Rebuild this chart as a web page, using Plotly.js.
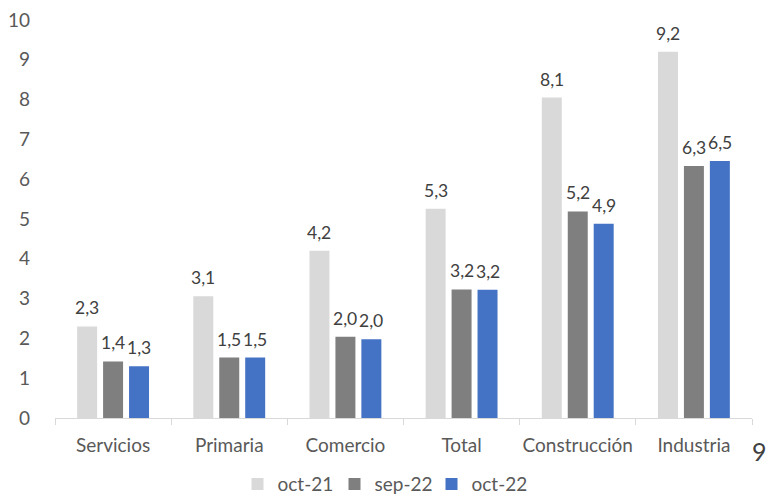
<!DOCTYPE html>
<html>
<head>
<meta charset="utf-8">
<script src="https://cdn.plot.ly/plotly-3.0.1.min.js"></script>
<style>html,body{margin:0;padding:0;background:#fff;}#chart{width:766px;height:494px;}</style>
</head>
<body>
<div id="chart"></div>
<script>
const categories = ["Servicios", "Primaria", "Comercio", "Total", "Construcción", "Industria"];
const seriesNames = ["oct-21", "sep-22", "oct-22"];
const oct21 = [2.3, 3.06, 4.2, 5.26, 8.05, 9.2];
const sep22 = [1.42, 1.52, 2.04, 3.23, 5.19, 6.33];
const oct22 = [1.3, 1.52, 1.98, 3.22, 4.88, 6.46];
const colors = ["#d9d9d9", "#7f7f7f", "#4472c4"];

const FONT = "Lato, 'Open Sans', sans-serif";
const BARGAP = 0.33;
const allSeries = [oct21, sep22, oct22];

const data = allSeries.map((vals, i) => ({
  type: "bar",
  name: seriesNames[i],
  x: categories,
  y: vals,
  marker: {color: colors[i]},
  hoverinfo: "none"
}));

// value labels placed above each bar (in axis units: category index + group offset)
const slot = (1 - BARGAP) / allSeries.length;
const labels = [];
allSeries.forEach((vals, i) => {
  vals.forEach((v, j) => {
    labels.push({
      x: j + (i - (allSeries.length - 1) / 2) * slot,
      y: v, xref: "x", yref: "y",
      text: v.toFixed(1).replace(".", ","),
      showarrow: false, yanchor: "bottom", xanchor: "center", yshift: 6,
      font: {family: FONT, size: 17.5, color: "#404040"}
    });
  });
});

const layout = {
  width: 766, height: 494,
  margin: {l: 55, r: 14, t: 20, b: 76, autoexpand: false},
  paper_bgcolor: "#fff", plot_bgcolor: "#fff",
  font: {family: FONT, size: 19, color: "#595959"},
  barmode: "group",
  bargap: BARGAP,
  bargroupgap: 0.23,
  showlegend: true,
  legend: {orientation: "h", x: 0.5, xanchor: "center", xref: "container",
           y: 0.02, yanchor: "middle", yref: "container",
           entrywidth: 52, entrywidthmode: "pixels",
           font: {family: FONT, size: 19, color: "#595959"}, itemwidth: 30, traceorder: "normal"},
  xaxis: {
    showline: true, linecolor: "#d9d9d9", linewidth: 1,
    ticks: "outside", tickson: "boundaries", ticklen: 6, tickcolor: "#d9d9d9",
    tickangle: 0,
    ticklabelstandoff: 10,
    tickfont: {family: FONT, size: 19, color: "#595959"}
  },
  yaxis: {
    range: [0, 10], dtick: 1, showgrid: false, zeroline: false, showline: false,
    ticklabelstandoff: 24,
    tickfont: {family: FONT, size: 19, color: "#595959"}
  },
  annotations: labels.concat([{
    text: "9", xref: "paper", yref: "paper", x: 1.025, y: -0.04, xanchor: "right", yanchor: "top",
    showarrow: false, font: {family: FONT, size: 25, color: "#404040"}
  }])
};

Plotly.newPlot("chart", data, layout, {staticPlot: true});
</script>
</body>
</html>
